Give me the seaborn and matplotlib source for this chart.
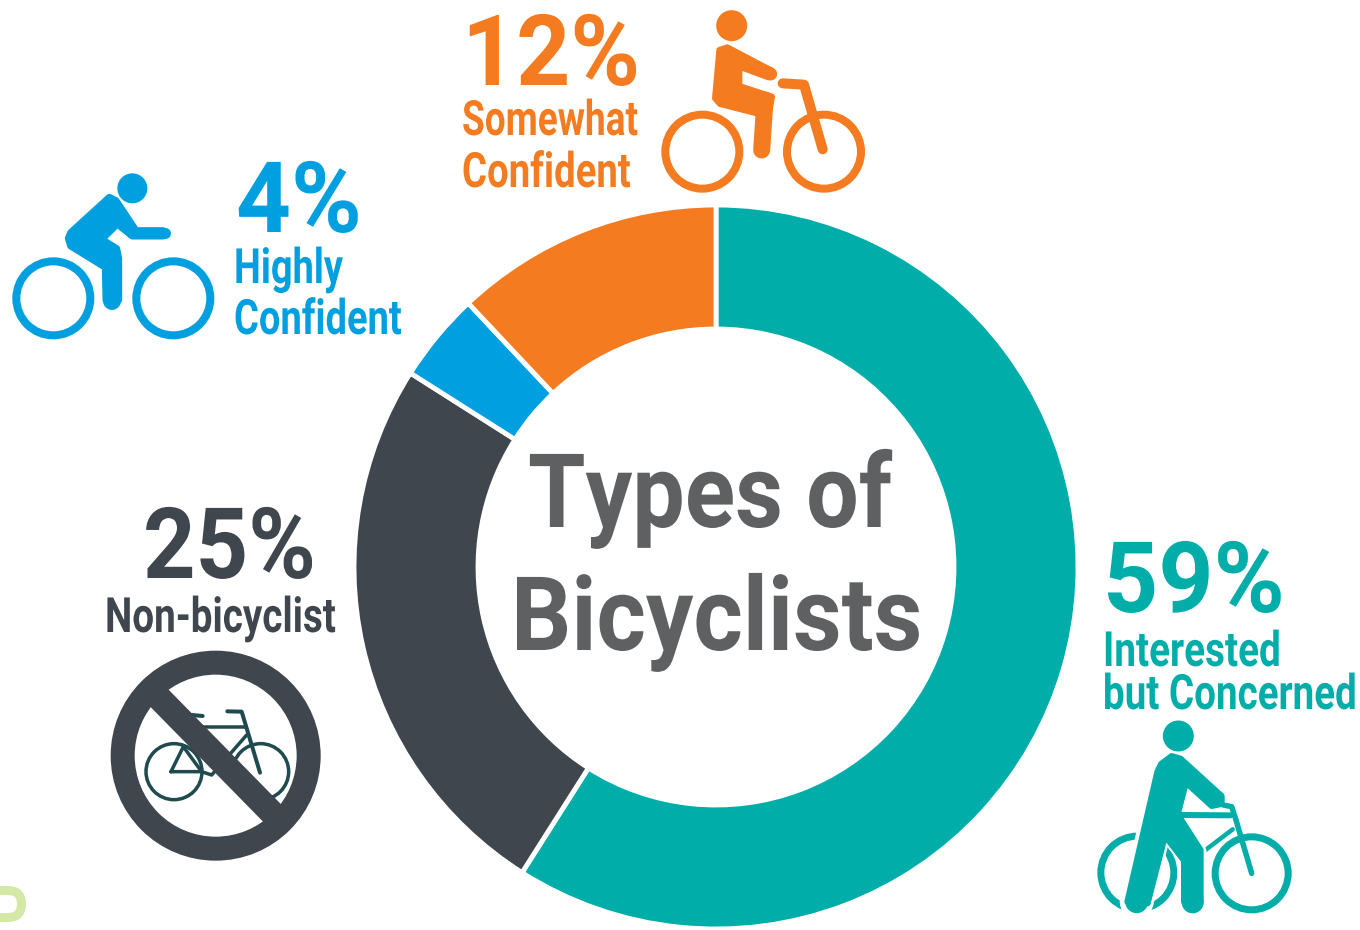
import matplotlib
matplotlib.use("Agg")
import matplotlib.pyplot as plt
from matplotlib.patches import Circle, Polygon, FancyBboxPatch
from matplotlib.patheffects import AbstractPathEffect
from matplotlib.transforms import Affine2D
import seaborn as sns

categories = ["Interested\nbut Concerned", "Non-bicyclist", "Highly\nConfident", "Somewhat\nConfident"]
shares = [59, 25, 4, 12]
colors = ["#00ADA9", "#3F464D", "#009FDF", "#F47B20"]
title_lines = ["Types of", "Bicyclists"]

sns.set_theme(style="white")
plt.rcParams["font.family"] = ["Roboto", "DejaVu Sans"]
W, H = 1360, 930
fig = plt.figure(figsize=(W / 100, H / 100), dpi=100, facecolor="white")

# donut
cx, cy, R = 716, 567, 362
ax_p = fig.add_axes([(cx - R) / W, (H - cy - R) / H, 2 * R / W, 2 * R / H])
ax_p.pie(shares, colors=sns.color_palette(colors), startangle=90, counterclock=False, radius=1,
         wedgeprops=dict(width=124 / R, edgecolor="white", linewidth=3.5))
ax_p.set_xlim(-1, 1); ax_p.set_ylim(-1, 1)

# overlay in pixel coordinates
ax = fig.add_axes([0, 0, 1, 1], facecolor="none")
ax.set_xlim(0, W); ax.set_ylim(H, 0); ax.axis("off")
PX = 0.72


def zp(pts, ox, oy):
    return [(ox + x / 3, oy + y / 3) for x, y in pts]


def line(pts, color, w, cap="round", z=3):
    xs, ys = zip(*pts)
    ax.plot(xs, ys, color=color, lw=w * PX, solid_capstyle=cap, solid_joinstyle="round", zorder=z)


def ring(c, r, color, w, z=3):
    ax.add_patch(Circle(c, r, fill=False, ec=color, lw=w * PX, zorder=z))


def blob(pts, color, w=4, z=4):
    ax.add_patch(Polygon(pts, closed=True, fc=color, ec=color, lw=w * PX, joinstyle="round", zorder=z))


def disc(c, r, color, z=4):
    ax.add_patch(Circle(c, r, fc=color, ec="none", zorder=z))


# orange rider
o, ox, oy = colors[3], 650, 0
disc(zp([(245, 77)], ox, oy)[0], 15.5, o)
ring(zp([(157, 455)], ox, oy)[0], 37, o, 8)
ring(zp([(522, 455)], ox, oy)[0], 37, o, 8)
blob(zp([(208, 150), (232, 142), (365, 212), (355, 232), (268, 200), (268, 258), (366, 290), (355, 350),
         (320, 340), (210, 312), (195, 295)], ox, oy), o, 6)
line(zp([(345, 300), (335, 450)], ox, oy), o, 17)
line(zp([(235, 165), (362, 222)], ox, oy), o, 13)
line(zp([(398, 250), (462, 254), (518, 448)], ox, oy), o, 10)

# blue rider
b, ox, oy = colors[2], 0, 160
disc(zp([(397, 85)], ox, oy)[0], 15, b)
ring(zp([(160, 415)], ox, oy)[0], 37, b, 8)
ring(zp([(520, 415)], ox, oy)[0], 37, b, 8)
blob(zp([(328, 112), (348, 122), (408, 212), (490, 212), (490, 228), (397, 228), (352, 192), (305, 238),
         (350, 266), (356, 295), (356, 420), (318, 420), (316, 322), (212, 258), (205, 235), (212, 218)],
        ox, oy), b, 7)
line(zp([(337, 300), (337, 423)], ox, oy), b, 18)
line(zp([(395, 220), (495, 220)], ox, oy), b, 11)

# teal walker
t, ox, oy = colors[0], 1080, 710
disc(zp([(295, 78)], ox, oy)[0], 15.5, t)
ring(zp([(515, 490)], ox, oy)[0], 36.5, t, 7)
ring(zp([(172, 488)], ox, oy)[0], 36.5, t, 7, z=3)
line(zp([(170, 575), (270, 170)], ox, oy), "white", 34, z=3.5)
line(zp([(338, 577), (335, 430), (270, 350)], ox, oy), "white", 30, z=3.5)
blob(zp([(243, 162), (275, 138), (302, 146), (425, 258), (425, 282), (395, 288), (318, 218), (294, 310),
         (304, 330), (362, 420), (362, 575), (312, 575), (312, 452), (255, 378), (203, 580), (142, 575),
         (232, 185)], ox, oy), t, 6)
disc(zp([(170, 575)], ox, oy)[0], 11.5, t)
disc(zp([(338, 577)], ox, oy)[0], 11, t)
line(zp([(298, 315), (452, 316)], ox, oy), t, 6)
line(zp([(430, 285), (455, 290), (468, 330), (515, 490)], ox, oy), t, 5.5)
line(zp([(458, 358), (370, 425)], ox, oy), t, 4.5)

# no-bike sign
d, ox, oy = colors[1], 100, 640
g = "#204A4F"
ring(zp([(222, 395)], ox, oy)[0], 28, g, 3.5)
ring(zp([(482, 395)], ox, oy)[0], 28, g, 3.5)
line(zp([(213, 395), (250, 320), (305, 395), (213, 395)], ox, oy), g, 3.5)
line(zp([(275, 225), (308, 228)], ox, oy), g, 4)
line(zp([(382, 214), (425, 215), (480, 398)], ox, oy), g, 4)
line(zp([(300, 262), (438, 262)], ox, oy), g, 3.5)
line(zp([(440, 285), (335, 405), (305, 395)], ox, oy), g, 3.5)
ring(zp([(347, 347)], ox, oy)[0], 93, d, 24, z=5)
line(zp([(165, 161), (530, 533)], ox, oy), d, 25, cap="butt", z=5)

# lime fragment at the lower-left edge
ax.add_patch(FancyBboxPatch((-40, 890.5), 61.5, 27, boxstyle="round,pad=0,rounding_size=13.5",
                            fill=False, ec="#D5E8A5", lw=9 * PX))


class VStretch(AbstractPathEffect):
    """Stretch a text's glyph outlines vertically about its baseline."""

    def __init__(self, sy, y0):
        super().__init__()
        self.sy, self.y0 = sy, y0

    def draw_path(self, renderer, gc, tpath, affine, rgbFace=None):
        extra = Affine2D().translate(0, -self.y0).scale(1, self.sy).translate(0, self.y0)
        renderer.draw_path(gc, tpath, affine + extra, rgbFace)


rend = fig.canvas.get_renderer()


def txt(x0, x1, base, s, size, color):
    """Real text, fitted to span x0..x1 on baseline `base`, as tall as `size` would be."""
    t_ = ax.text(x0, base, s, fontsize=size, color=color, ha="left", va="baseline",
                 fontweight="bold", zorder=6)
    w = t_.get_window_extent(rend).width
    fit = size * (x1 - x0) / w
    t_.set_fontsize(fit)
    t_.set_path_effects([VStretch(size / fit, H - base)])


PCT, LAB, TTL = 71, 35, 74
labels = [c.split("\n") for c in categories]
txt(1103, 1285, 612, f"{shares[0]}%", PCT, colors[0])
txt(1103, 1281, 666, labels[0][0], LAB, colors[0])
txt(1103, 1357, 709, labels[0][1], LAB, colors[0])
txt(143, 316, 578, f"{shares[1]}%", PCT, colors[1])
txt(105, 336, 632, labels[1][0], LAB, colors[1])
txt(236, 362, 232, f"{shares[2]}%", PCT, colors[2])
txt(234, 343, 283, labels[2][0], LAB, colors[2])
txt(234, 402, 334, labels[2][1], LAB, colors[2])
txt(462, 640, 85, f"{shares[3]}%", PCT, colors[3])
txt(462, 638, 135, labels[3][0], LAB, colors[3])
txt(462, 631, 187, labels[3][1], LAB, colors[3])
txt(528, 892, 527, title_lines[0], TTL, "#5F6062")
txt(511, 922, 650, title_lines[1], TTL, "#5F6062")

fig.savefig("out.png", dpi=100, facecolor="white")
